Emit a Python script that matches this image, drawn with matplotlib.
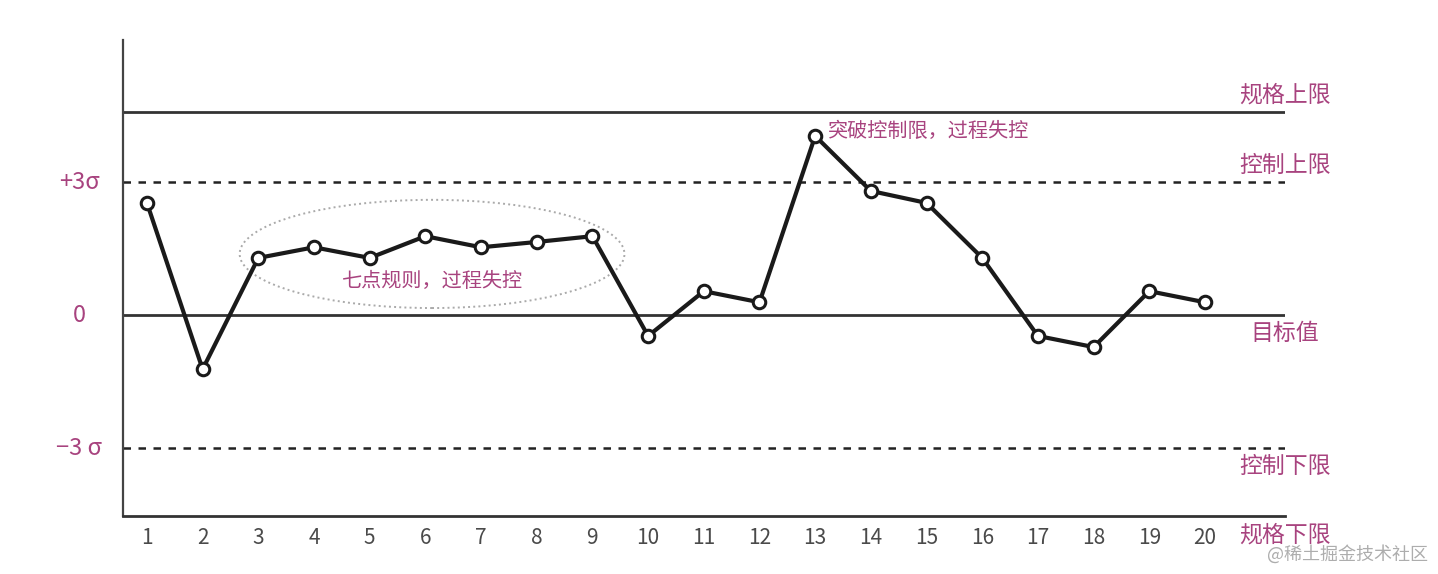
import matplotlib.pyplot as plt
from matplotlib.patches import Ellipse

plt.rcParams['font.family'] = ['Noto Sans CJK SC', 'DejaVu Sans']

# Data (in units of sigma)
samples = list(range(1, 21))
values = [2.53, -1.22, 1.29, 1.53, 1.29, 1.78, 1.53, 1.65, 1.78, -0.47,
          0.54, 0.29, 4.04, 2.80, 2.53, 1.29, -0.47, -0.72, 0.54, 0.29]

spec_upper = 4.58
spec_lower = -4.53
ctrl_upper = 3
ctrl_lower = -3
target = 0

ytick_pos = [3, 0, -3]
ytick_labels = ['+3σ', '0', '−3 σ']

limit_labels = ['规格上限', '控制上限', '目标值', '控制下限', '规格下限']

pink = '#a8437f'
gray_txt = '#4a4a4a'

fig = plt.figure(figsize=(14.38, 5.74), dpi=100)
ax = fig.add_axes([0.0855, 0.101, 0.8081, 0.829])

ax.set_xlim(0.569, 21.437)
ax.set_ylim(spec_lower, 6.2)

# limit lines
ax.axhline(spec_upper, color='#333333', lw=2)
ax.axhline(ctrl_upper, color='#222222', lw=1.8, ls=(0, (3, 3)))
ax.axhline(target, color='#333333', lw=2)
ax.axhline(ctrl_lower, color='#222222', lw=1.8, ls=(0, (3, 3)))

# seven point rule ellipse
ell = Ellipse((6.12, 1.38), 6.91, 2.44, fill=False, ls=':', lw=1.4,
              edgecolor='#aaaaaa')
ax.add_patch(ell)

ax.plot(samples, values, color='#1a1a1a', lw=3, marker='o', markersize=9,
        markerfacecolor='white', markeredgecolor='#1a1a1a',
        markeredgewidth=2.2, zorder=5)

ax.text(6.12, 0.77, '七点规则，过程失控', color=pink, fontsize=14.5,
        ha='center', va='center')
ax.text(13.23, 4.13, '突破控制限，过程失控', color=pink, fontsize=14.5,
        ha='left', va='center')

# labels on the right of the limit lines
lab_y = [spec_upper + 0.38, ctrl_upper + 0.38, target - 0.42,
         ctrl_lower - 0.42, spec_lower - 0.42]
for lab, yy in zip(limit_labels, lab_y):
    ax.text(1.0, yy, lab, color=pink, fontsize=16.5,
            ha='center', va='center', transform=ax.get_yaxis_transform(),
            clip_on=False)

ax.set_xticks(samples)
ax.set_xticklabels([str(s) for s in samples], color=gray_txt, fontsize=15)
ax.tick_params(axis='x', length=0, pad=8)

# y labels centred left of the axis
ax.set_yticks([])
x_lab = -(123 - 79) / (0.8081 * 1438)
for yy, lab in zip(ytick_pos, ytick_labels):
    ax.text(x_lab, yy, lab, color=pink, fontsize=17, ha='center',
            va='center', transform=ax.get_yaxis_transform(), clip_on=False)

for s in ['top', 'right']:
    ax.spines[s].set_visible(False)
ax.spines['left'].set_color('#444444')
ax.spines['bottom'].set_color('#333333')
ax.spines['left'].set_linewidth(1.6)
ax.spines['bottom'].set_linewidth(2)

# watermark
fig.text(0.993, 0.035, '@稀土掘金技术社区', color='#999999', fontsize=13,
         ha='right', va='center', alpha=0.8)

fig.savefig('out.png', dpi=100)
